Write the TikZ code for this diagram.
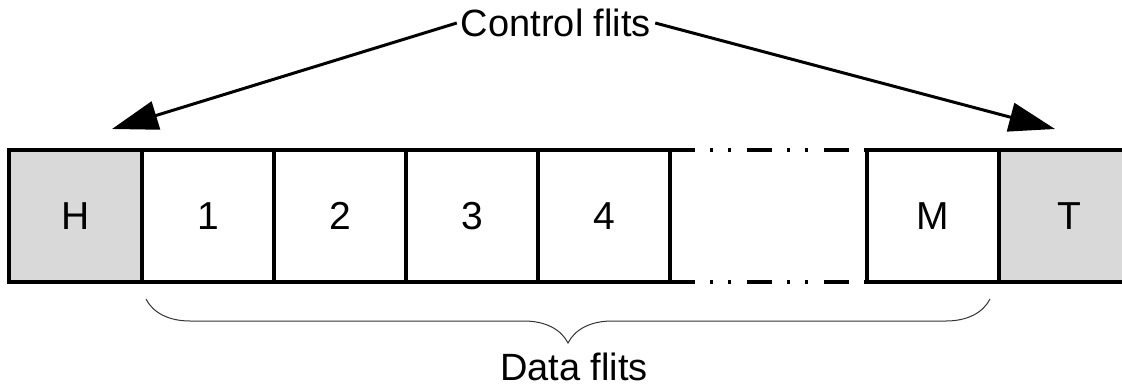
\documentclass[tikz,border=0pt]{standalone}
\usepackage{fontspec}
\setmainfont{Liberation Sans}
\usetikzlibrary{arrows.meta, positioning, decorations.pathreplacing}
\definecolor{ctrlgray}{RGB}{217,217,217}

\begin{document}
\begin{tikzpicture}[x=1pt,y=-1pt,node distance=0pt,>={Triangle[length=46pt,width=29pt]},
      flit/.style={draw,line width=3.3pt,minimum width=132pt,minimum height=132pt,
        inner sep=0pt,outer sep=0pt,font=\fontsize{39}{47}\selectfont},
      ctrlflit/.style={flit,fill=ctrlgray},
      gapline/.style={line width=3.3pt,
        dash pattern=on 25pt off 15pt on 3pt off 15pt on 3pt off 16pt},
      databrace/.style={decorate,decoration={brace,amplitude=44pt,mirror},
        draw=black!80,line width=1pt},
      caption/.style={inner sep=4pt,font=\fontsize{38}{46}\selectfont}]
      \clip (0,0) rectangle (1122,391);
      % the packet: head, data flits, tail
      \node[ctrlflit, minimum width=133pt] (nH) at (75.5,216) {H};
      \node[flit] (n1) [right=of nH] {1};
      \node[flit] (n2) [right=of n1] {2};
      \node[flit] (n3) [right=of n2] {3};
      \node[flit] (n4) [right=of n3] {4};
      \node[flit] (nM) [right=197pt of n4] {M};
      \node[ctrlflit, minimum width=140pt] (nT) [right=of nM] {T};
      \draw[gapline] (n4.north east) -- (nM.north west);
      \draw[gapline] (n4.south east) -- (nM.south west);
      % labels
      \node[caption] (ctrl) at (556,23) {Control flits};
      \coordinate (hTip) at (112,129);
      \coordinate (tTip) at (1055,129);
      \path[->,line width=3pt]
      (ctrl.west) edge (hTip)
      (ctrl.east) edge (tTip);
      \draw[databrace] ([xshift=4pt,yshift=-17pt]n1.south west) -- ([xshift=-9pt,yshift=-17pt]nM.south east);
      \node[caption] (data) at (574,367) {Data flits};
    \end{tikzpicture}
\end{document}
